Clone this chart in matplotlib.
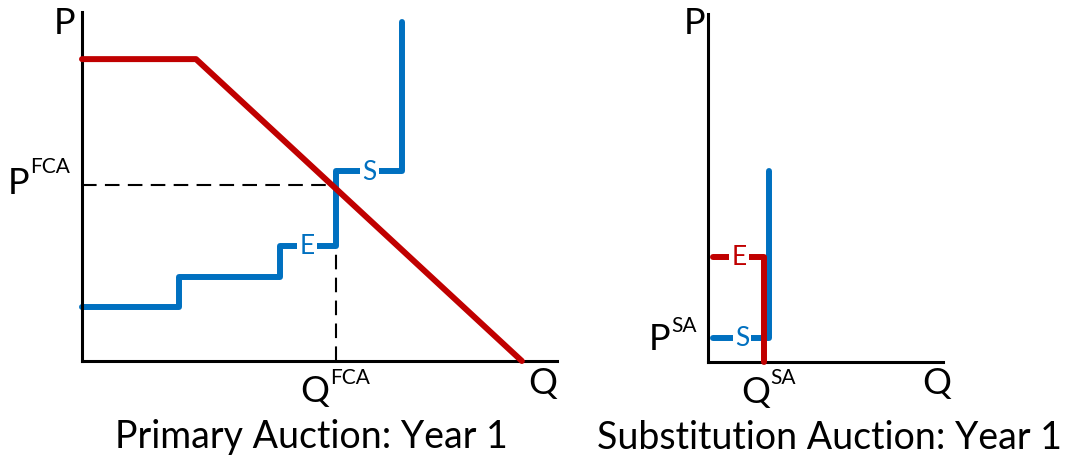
import matplotlib.pyplot as plt

plt.rcParams['font.family'] = ['Lato', 'DejaVu Sans']

RED = '#C00000'
BLUE = '#0070C0'

# primary auction (left panel)
demand_q = [0, 2.4, 9.26]
demand_p = [8.65, 8.65, 0]
supply_q = [0, 2.04, 2.04, 4.17, 4.17, 5.35, 5.35, 6.74, 6.74]
supply_p = [1.55, 1.55, 2.41, 2.41, 3.30, 3.30, 5.44, 5.44, 9.71]
p_fca = 5.04
q_fca = 5.35

# substitution auction (right panel)
sa_supply_q = [0.1, 1.30, 1.30]
sa_supply_p = [0.69, 0.69, 5.49]
sa_demand_q = [0.1, 1.19, 1.19]
sa_demand_p = [3.02, 3.02, 0]
p_sa = 0.69
q_sa = 1.19

W, H = 1065, 460
fig = plt.figure(figsize=(W / 100, H / 100), dpi=100)


def px(x, y):
    return x / W, 1 - y / H


def frame(ax, xmax, ymax):
    ax.set_xlim(0, xmax)
    ax.set_ylim(0, ymax)
    ax.set_xticks([])
    ax.set_yticks([])
    for s in ['top', 'right']:
        ax.spines[s].set_visible(False)
    for s in ['left', 'bottom']:
        ax.spines[s].set_linewidth(2.2)
        ax.spines[s].set_capstyle('projecting')
    ax.patch.set_alpha(0)


big = 26
sup = 15
lab = 19
lw = 4.3
dash = dict(color='black', lw=1.5, ls=(0, (7, 4)), zorder=1)
curve = dict(lw=lw, solid_capstyle='round', solid_joinstyle='round', clip_on=False)
box = dict(facecolor='white', edgecolor='none', pad=1.5)

# ---- left panel
ax1 = fig.add_axes([82 / W, 1 - 362 / H, 475 / W, 349 / H])
frame(ax1, 10, 10)
ax1.plot([0, q_fca], [p_fca, p_fca], **dash)
ax1.plot([q_fca, q_fca], [0, supply_p[4]], **dash)
ax1.plot(supply_q, supply_p, color=BLUE, zorder=2, **curve)
ax1.plot(demand_q, demand_p, color=RED, zorder=3, **curve)
ax1.text(4.74, supply_p[4], 'E', color=BLUE, fontsize=lab, ha='center', va='center',
         bbox=box, zorder=4)
ax1.text(6.05, supply_p[6], 'S', color=BLUE, fontsize=lab, ha='center', va='center',
         bbox=box, zorder=4)

fig.text(*px(65, 24), 'P', fontsize=big, ha='center', va='center')
fig.text(*px(19, 183), 'P', fontsize=big, ha='center', va='center')
fig.text(*px(50, 167), 'FCA', fontsize=sup, ha='center', va='center')
fig.text(*px(315, 392), 'Q', fontsize=big, ha='center', va='center')
fig.text(*px(350, 378), 'FCA', fontsize=sup, ha='center', va='center')
fig.text(*px(543, 384), 'Q', fontsize=big, ha='center', va='center')
fig.text(*px(311, 437), 'Primary Auction: Year 1', fontsize=27, ha='center', va='center')

# ---- right panel
ax2 = fig.add_axes([708 / W, 1 - 363 / H, 235 / W, 348 / H])
frame(ax2, 5, 10)
ax2.plot(sa_supply_q, sa_supply_p, color=BLUE, zorder=2, **curve)
ax2.plot(sa_demand_q, sa_demand_p, color=RED, zorder=3, **curve)
ax2.text(0.66, sa_demand_p[0], 'E', color=RED, fontsize=lab, ha='center', va='center',
         bbox=box, zorder=4)
ax2.text(0.72, sa_supply_p[0], 'S', color=BLUE, fontsize=lab, ha='center', va='center',
         bbox=box, zorder=4)

fig.text(*px(695, 24), 'P', fontsize=big, ha='center', va='center')
fig.text(*px(660, 340), 'P', fontsize=big, ha='center', va='center')
fig.text(*px(684, 326), 'SA', fontsize=sup, ha='center', va='center')
fig.text(*px(756, 393), 'Q', fontsize=big, ha='center', va='center')
fig.text(*px(783, 378), 'SA', fontsize=sup, ha='center', va='center')
fig.text(*px(937, 384), 'Q', fontsize=big, ha='center', va='center')
fig.text(*px(829, 438), 'Substitution Auction: Year 1', fontsize=27, ha='center', va='center')

fig.savefig('out.png', dpi=100)
